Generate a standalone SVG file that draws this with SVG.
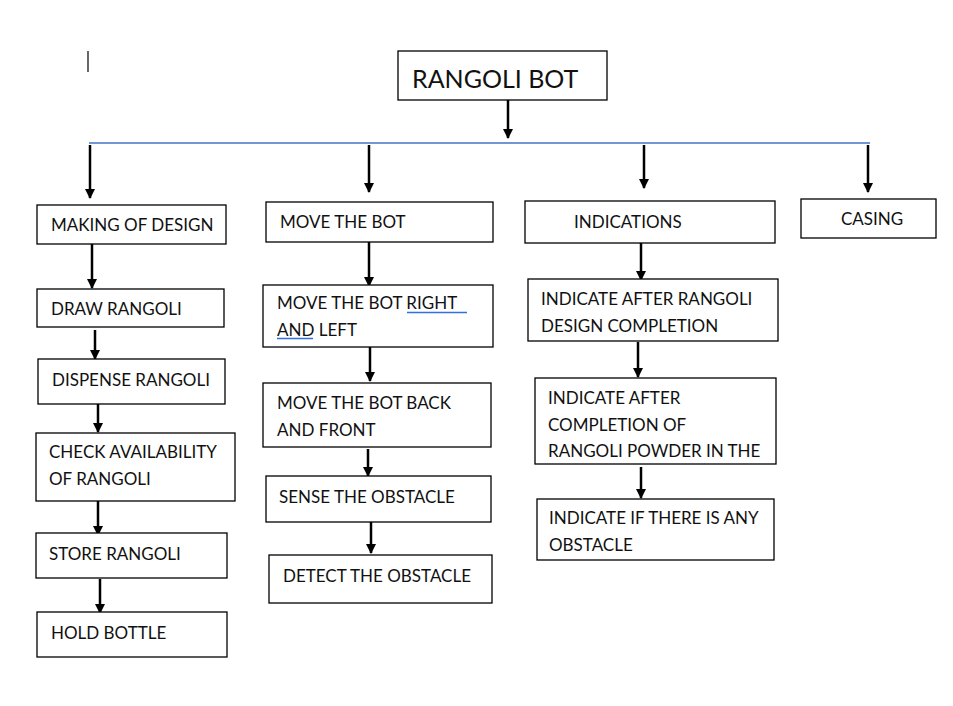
<svg xmlns="http://www.w3.org/2000/svg" width="953" height="706" viewBox="0 0 953 706">
<defs>
<marker id="ah" viewBox="0 0 10 10" refX="9" refY="5" markerWidth="4" markerHeight="4" orient="auto" markerUnits="strokeWidth">
<path d="M0,0 L10,5 L0,10 z" fill="#000"/>
</marker>
<style>
.box{fill:#fff;stroke:#000;stroke-width:1.3}
.t{font-family:Lato,"Liberation Sans",sans-serif;font-size:17px;fill:#111}
.title{font-family:Lato,"Liberation Sans",sans-serif;font-size:25px;fill:#111}
.arr{stroke:#000;stroke-width:2.5;fill:none;marker-end:url(#ah)}
.ul{stroke:#2f6fe0;stroke-width:1.5}
</style>
</defs>
<rect width="953" height="706" fill="#fff"/>
<line x1="88" y1="51" x2="88" y2="72" stroke="#000" stroke-width="1.2"/>
<g id="connectors">
<line x1="89" y1="143" x2="870" y2="143" stroke="#4472c4" stroke-width="1.3"/>
<line class="arr" x1="508" y1="100" x2="508" y2="138"/>
<line class="arr" x1="90" y1="145" x2="90" y2="198"/>
<line class="arr" x1="369" y1="145" x2="369" y2="192"/>
<line class="arr" x1="644" y1="145" x2="644" y2="188"/>
<line class="arr" x1="868" y1="145" x2="868" y2="192"/>
<line class="arr" x1="92" y1="244" x2="92" y2="288"/>
<line class="arr" x1="95" y1="330" x2="95" y2="359"/>
<line class="arr" x1="98" y1="404" x2="98" y2="432"/>
<line class="arr" x1="98" y1="501" x2="98" y2="535"/>
<line class="arr" x1="100" y1="579" x2="100" y2="613"/>
<line class="arr" x1="369" y1="242" x2="369" y2="286"/>
<line class="arr" x1="370" y1="347" x2="370" y2="381"/>
<line class="arr" x1="368" y1="449" x2="368" y2="476"/>
<line class="arr" x1="371" y1="522" x2="371" y2="553"/>
<line class="arr" x1="641" y1="243" x2="641" y2="280"/>
<line class="arr" x1="638" y1="342" x2="638" y2="377"/>
<line class="arr" x1="641" y1="467" x2="641" y2="498"/>
</g>
<g id="root"><rect class="box" x="398" y="51" width="209" height="49" stroke-width="2"/><text class="title" x="412" y="88">RANGOLI BOT</text></g>
<g id="making"><rect class="box" x="37" y="205" width="189" height="39"/><text class="t" x="51" y="231">MAKING OF DESIGN</text></g>
<g id="move"><rect class="box" x="266" y="202" width="227" height="40"/><text class="t" x="280" y="228">MOVE THE BOT</text></g>
<g id="indications"><rect class="box" x="525" y="201" width="250" height="42"/><text class="t" x="574" y="228">INDICATIONS</text></g>
<g id="casing"><rect class="box" x="801" y="199" width="135" height="39"/><text class="t" x="841" y="225">CASING</text></g>
<g id="draw"><rect class="box" x="37" y="289" width="187" height="38"/><text class="t" x="51" y="315">DRAW RANGOLI</text></g>
<g id="dispense"><rect class="box" x="38" y="359" width="187" height="45"/><text class="t" x="52" y="386">DISPENSE RANGOLI</text></g>
<g id="check"><rect class="box" x="36" y="433" width="199" height="68"/><text class="t" x="49" y="458">CHECK AVAILABILITY</text><text class="t" x="49" y="485">OF RANGOLI</text></g>
<g id="store"><rect class="box" x="36" y="533" width="191" height="45"/><text class="t" x="49" y="560">STORE RANGOLI</text></g>
<g id="hold"><rect class="box" x="37" y="612" width="190" height="45"/><text class="t" x="51" y="639">HOLD BOTTLE</text></g>
<g id="rightleft"><rect class="box" x="263" y="285" width="230" height="62"/><text class="t" x="277" y="309">MOVE THE BOT RIGHT </text><text class="t" x="277" y="336">AND LEFT</text><line class="ul" x1="407" y1="312.5" x2="467" y2="312.5"/><line class="ul" x1="277" y1="338.5" x2="313" y2="338.5"/></g>
<g id="backfront"><rect class="box" x="263" y="383" width="228" height="64"/><text class="t" x="277" y="409">MOVE THE BOT BACK</text><text class="t" x="277" y="436">AND FRONT</text></g>
<g id="sense"><rect class="box" x="266" y="476" width="225" height="46"/><text class="t" x="279" y="503">SENSE THE OBSTACLE</text></g>
<g id="detect"><rect class="box" x="269" y="555" width="223" height="48"/><text class="t" x="283" y="582">DETECT THE OBSTACLE</text></g>
<g id="ind1"><rect class="box" x="528" y="279" width="250" height="62"/><text class="t" x="541" y="305">INDICATE AFTER RANGOLI</text><text class="t" x="541" y="332">DESIGN COMPLETION</text></g>
<g id="ind2"><rect class="box" x="535" y="378" width="241" height="86"/><text class="t" x="548" y="404">INDICATE AFTER</text><text class="t" x="548" y="431">COMPLETION OF</text><text class="t" x="548" y="457">RANGOLI POWDER IN THE</text></g>
<g id="ind3"><rect class="box" x="537" y="499" width="237" height="61"/><text class="t" x="549" y="524">INDICATE IF THERE IS ANY</text><text class="t" x="549" y="551">OBSTACLE</text></g>
</svg>
